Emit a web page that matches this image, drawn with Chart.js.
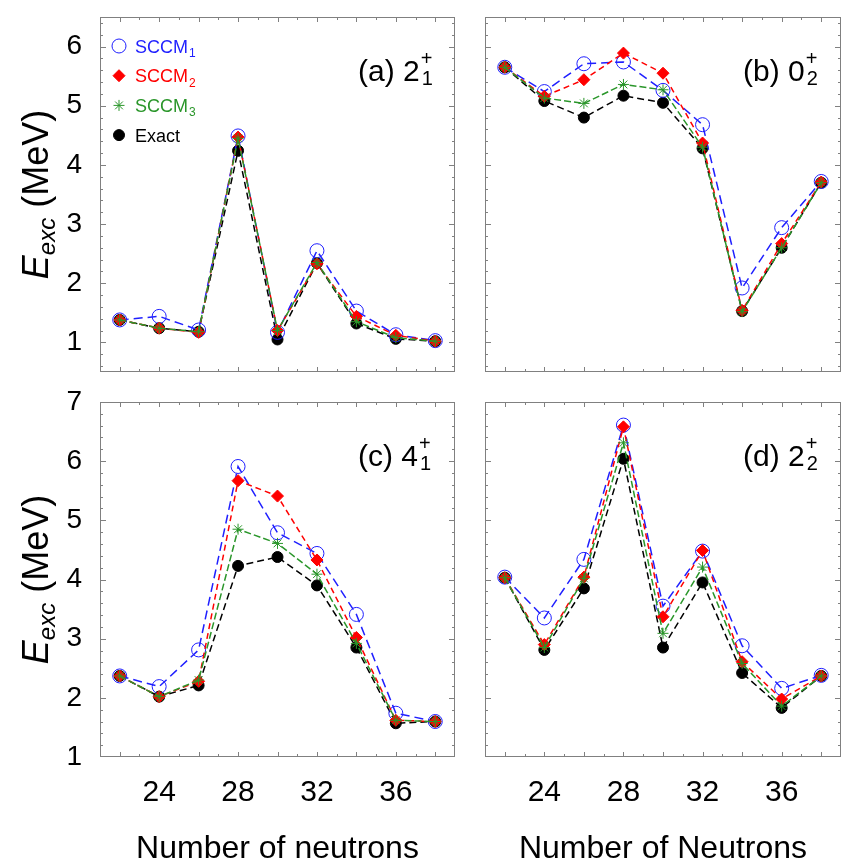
<!DOCTYPE html>
<html>
<head>
<meta charset="utf-8">
<script src="https://cdn.jsdelivr.net/npm/chart.js@4.4.0/dist/chart.umd.min.js"></script>
<style>
  body { margin: 0; background: #fff; }
  #wrap { position: relative; width: 856px; height: 867px; }
  canvas { position: absolute; }
</style>
</head>
<body>
<div id="wrap">
  <canvas id="pa" width="470" height="387" style="left:0;top:0"></canvas>
  <canvas id="pb" width="386" height="387" style="left:470px;top:0"></canvas>
  <canvas id="pc" width="470" height="480" style="left:0;top:387px"></canvas>
  <canvas id="pd" width="386" height="480" style="left:470px;top:387px"></canvas>
</div>
<script>
var neutrons = [22, 24, 26, 28, 30, 32, 34, 36, 38];
var xTickLabels = [24, 28, 32, 36];
var yTicksTop = [1, 2, 3, 4, 5, 6];
var yTicksBottom = [1, 2, 3, 4, 5, 6, 7];

// (a) 2+ 1
var a_sccm1 = [1.38, 1.44, 1.21, 4.49, 1.17, 2.55, 1.53, 1.13, 1.03];
var a_sccm2 = [1.38, 1.24, 1.17, 4.47, 1.20, 2.33, 1.44, 1.12, 1.02];
var a_sccm3 = [1.38, 1.24, 1.18, 4.45, 1.20, 2.35, 1.35, 1.08, 1.02];
var a_exact = [1.38, 1.24, 1.18, 4.24, 1.05, 2.34, 1.32, 1.06, 1.02];

// (b) 0+ 2
var b_sccm1 = [5.65, 5.24, 5.71, 5.74, 5.26, 4.68, 1.92, 2.94, 3.72];
var b_sccm2 = [5.65, 5.16, 5.44, 5.89, 5.55, 4.37, 1.54, 2.67, 3.71];
var b_sccm3 = [5.65, 5.13, 5.04, 5.36, 5.27, 4.30, 1.52, 2.60, 3.70];
var b_exact = [5.65, 5.08, 4.80, 5.17, 5.05, 4.28, 1.53, 2.60, 3.70];

// (c) 4+ 1
var c_sccm1 = [2.37, 2.19, 2.81, 5.91, 4.79, 4.44, 3.41, 1.74, 1.60];
var c_sccm2 = [2.37, 2.02, 2.28, 5.67, 5.41, 4.33, 3.02, 1.62, 1.60];
var c_sccm3 = [2.37, 2.02, 2.30, 4.85, 4.61, 4.09, 2.92, 1.62, 1.60];
var c_exact = [2.37, 2.02, 2.21, 4.23, 4.38, 3.90, 2.85, 1.57, 1.60];

// (d) 2+ 2
var d_sccm1 = [4.04, 3.35, 4.34, 6.61, 3.55, 4.48, 2.88, 2.16, 2.38];
var d_sccm2 = [4.03, 2.90, 4.04, 6.58, 3.37, 4.49, 2.61, 1.98, 2.37];
var d_sccm3 = [4.03, 2.85, 4.02, 6.31, 3.09, 4.21, 2.58, 1.86, 2.37];
var d_exact = [4.03, 2.81, 3.85, 6.04, 2.85, 3.95, 2.42, 1.83, 2.37];

var FONT = '"Liberation Sans", Arial, Helvetica, sans-serif';
var BLUE = '#1f1fff', RED = '#ff0000', GREEN = '#2a962a', BLACK = '#000000';

var seriesStyle = [
  { name: 'SCCM', sub: '1', color: BLUE, style: 'circle', r: 7, fill: 'rgba(0,0,0,0)', dash: [9, 5], order: 2 },
  { name: 'SCCM', sub: '2', color: RED, style: 'rectRot', r: 6, fill: RED, dash: [6, 4], order: 1 },
  { name: 'SCCM', sub: '3', color: GREEN, style: 'star', r: 5.5, fill: GREEN, dash: [7, 3], order: 0 },
  { name: 'Exact', sub: '', color: BLACK, style: 'circle', r: 5.5, fill: BLACK, dash: [7, 4], order: 3 }
];

function pts(vals) {
  return neutrons.map(function (n, i) { return { x: n, y: vals[i] }; });
}

function noPad(s) {
  s.paddingTop = 0; s.paddingBottom = 0; s.paddingLeft = 0; s.paddingRight = 0;
}

// frame with inward ticks on all four sides
var framePlugin = {
  id: 'frame',
  afterDatasetsDraw: function (chart) {
    var a = chart.chartArea, ctx = chart.ctx;
    var xs = chart.scales.x, ys = chart.scales.y;
    ctx.save();
    ctx.strokeStyle = '#808080';
    ctx.lineWidth = 1;
    ctx.strokeRect(a.left + 0.5, a.top + 0.5, a.right - a.left - 1, a.bottom - a.top - 1);
    ctx.beginPath();
    for (var n = Math.ceil(xs.min); n <= xs.max; n++) {
      if (n === xs.min || n === xs.max) continue;
      var len = n % 2 === 0 ? 5 : 3;
      var px = Math.round(xs.getPixelForValue(n)) + 0.5;
      ctx.moveTo(px, a.bottom); ctx.lineTo(px, a.bottom - len);
      ctx.moveTo(px, a.top); ctx.lineTo(px, a.top + len);
    }
    for (var k = Math.ceil(ys.min * 5 - 1e-6); k <= ys.max * 5 + 1e-6; k++) {
      var v = k / 5;
      if (Math.abs(v - ys.min) < 1e-6 || Math.abs(v - ys.max) < 1e-6) continue;
      var l2 = k % 5 === 0 ? 6 : 3;
      var py = Math.round(ys.getPixelForValue(v)) + 0.5;
      ctx.moveTo(a.left, py); ctx.lineTo(a.left + l2, py);
      ctx.moveTo(a.right, py); ctx.lineTo(a.right - l2, py);
    }
    ctx.stroke();
    ctx.restore();
  }
};

// panel label, y title and legend
var textPlugin = {
  id: 'texts',
  afterDraw: function (chart) {
    var o = chart.options.plugins.texts;
    var a = chart.chartArea, ctx = chart.ctx;
    ctx.save();
    ctx.textAlign = 'left';
    ctx.textBaseline = 'alphabetic';
    ctx.fillStyle = '#000';

    // panel label like "(a) 2+1"
    var lx = a.left + 258, ly = a.top + 64;
    ctx.font = '30px ' + FONT;
    ctx.fillText(o.label, lx, ly);
    var lw = ctx.measureText(o.label).width;
    ctx.font = '20px ' + FONT;
    ctx.fillText('+', lx + lw + 1, ly - 16);
    ctx.fillText(o.labelSub, lx + lw + 2, ly + 4);

    if (o.yTitle) {
      ctx.save();
      ctx.translate(48, (a.top + a.bottom) / 2);
      ctx.rotate(-Math.PI / 2);
      var f1 = 'italic 36px ' + FONT, f2 = 'italic 24px ' + FONT, f3 = '36px ' + FONT;
      ctx.font = f1; var w1 = ctx.measureText('E').width;
      ctx.font = f2; var w2 = ctx.measureText('exc').width;
      ctx.font = f3; var w3 = ctx.measureText(' (MeV)').width;
      var x0 = -(w1 + w2 + w3) / 2;
      ctx.font = f1; ctx.fillText('E', x0, 0);
      ctx.font = f2; ctx.fillText('exc', x0 + w1, 7);
      ctx.font = f3; ctx.fillText(' (MeV)', x0 + w1 + w2, 0);
      ctx.restore();
    }

    if (o.legend) {
      seriesStyle.forEach(function (s, i) {
        var y = a.top + 29 + i * 29.7;
        var x = a.left + 19;
        ctx.fillStyle = s.fill;
        ctx.strokeStyle = s.color;
        ctx.lineWidth = 1;
        ctx.setLineDash([]);
        Chart.helpers.drawPoint(ctx, { pointStyle: s.style, radius: s.r, rotation: 0, borderWidth: 1 }, x, y);
        ctx.fillStyle = s.color;
        ctx.font = '18px ' + FONT;
        ctx.fillText(s.name, a.left + 35, y + 6.5);
        var tw = ctx.measureText(s.name).width;
        if (s.sub) {
          ctx.font = '12px ' + FONT;
          ctx.fillText(s.sub, a.left + 35 + tw + 1, y + 11);
        }
      });
    }
    ctx.restore();
  }
};

function makePanel(id, vals, cfg) {
  var datasets = seriesStyle.map(function (s, i) {
    return {
      data: pts(vals[i]),
      borderColor: s.color,
      borderWidth: 1.5,
      borderDash: s.dash,
      pointStyle: s.style,
      pointRadius: s.r,
      pointBackgroundColor: s.fill,
      pointBorderColor: s.color,
      pointBorderWidth: 1,
      fill: false,
      tension: 0,
      order: s.order
    };
  });
  var yTicks = cfg.bottom ? yTicksBottom : yTicksTop;
  new Chart(id, {
    type: 'line',
    data: { datasets: datasets },
    plugins: [framePlugin, textPlugin],
    options: {
      responsive: false,
      animation: false,
      events: [],
      devicePixelRatio: 1,
      layout: { padding: { top: cfg.bottom ? 15 : 17, right: 15, left: 0, bottom: 0 } },
      plugins: {
        legend: { display: false },
        tooltip: { enabled: false },
        texts: { label: cfg.label, labelSub: cfg.labelSub, yTitle: cfg.left, legend: cfg.legend }
      },
      scales: {
        x: {
          type: 'linear',
          min: 21, max: 39,
          afterBuildTicks: function (s) { s.ticks = xTickLabels.map(function (v) { return { value: v }; }); },
          afterFit: function (s) { s.height = cfg.bottom ? 110 : 15; noPad(s); },
          grid: { display: false, drawTicks: false },
          border: { display: false },
          ticks: { display: cfg.bottom, color: '#000', font: { family: FONT, size: 30 }, padding: 18, maxRotation: 0, autoSkip: false },
          title: { display: cfg.bottom, text: cfg.xTitle, color: '#000', font: { family: FONT, size: 32, lineHeight: 1.1 }, padding: { top: 0, bottom: 0 } }
        },
        y: {
          type: 'linear',
          min: cfg.bottom ? 1 : 0.5,
          max: cfg.bottom ? 7 : 6.5,
          afterBuildTicks: function (s) { s.ticks = yTicks.map(function (v) { return { value: v }; }); },
          afterFit: function (s) { s.width = cfg.left ? 100 : 15; noPad(s); },
          grid: { display: false, drawTicks: false },
          border: { display: false },
          ticks: { display: cfg.left, color: '#000', font: { family: FONT, size: 28 }, padding: 18 }
        }
      }
    }
  });
}

makePanel('pa', [a_sccm1, a_sccm2, a_sccm3, a_exact], { left: true, bottom: false, legend: true, label: '(a) 2', labelSub: '1' });
makePanel('pb', [b_sccm1, b_sccm2, b_sccm3, b_exact], { left: false, bottom: false, legend: false, label: '(b) 0', labelSub: '2' });
makePanel('pc', [c_sccm1, c_sccm2, c_sccm3, c_exact], { left: true, bottom: true, legend: false, label: '(c) 4', labelSub: '1', xTitle: 'Number of neutrons' });
makePanel('pd', [d_sccm1, d_sccm2, d_sccm3, d_exact], { left: false, bottom: true, legend: false, label: '(d) 2', labelSub: '2', xTitle: 'Number of Neutrons' });
</script>
</body>
</html>
